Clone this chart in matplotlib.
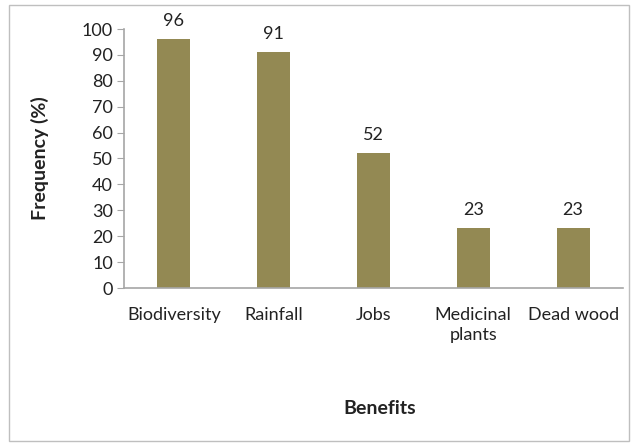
import matplotlib
matplotlib.use("Agg")
import matplotlib.pyplot as plt
from matplotlib.patches import Rectangle

benefits = ["Biodiversity", "Rainfall", "Jobs", "Medicinal\nplants", "Dead wood"]
frequency = [96, 91, 52, 23, 23]

plt.rcParams['font.family'] = ["Lato", "DejaVu Sans"]

W, H = 637, 448
fig = plt.figure(figsize=(W / 100, H / 100), dpi=100)
ax = fig.add_axes([124 / W, 1 - 288 / H, (623 - 124) / W, (288 - 29) / H])

x = range(len(benefits))
ax.bar(x, frequency, width=0.33, color="#938953", zorder=2)
for xi, v in zip(x, frequency):
    ax.text(xi, v + 4, str(v), ha="center", va="bottom", fontsize=13, color="#222222")

ax.set_xlim(-0.5, len(benefits) - 0.5)
ax.set_ylim(0, 100)
ax.set_yticks(range(0, 101, 10))
ax.set_xticks(list(x))
ax.set_xticklabels(benefits, fontsize=13, color="#222222", linespacing=1.3)
ax.tick_params(axis="x", length=0, pad=14)
ax.tick_params(axis="y", length=5, color="#A6A6A6", labelsize=13, labelcolor="#222222", pad=3)

for s in ["top", "right"]:
    ax.spines[s].set_visible(False)
for s in ["left", "bottom"]:
    ax.spines[s].set_color("#A6A6A6")
    ax.spines[s].set_linewidth(1.2)

fig.text(40 / W, 1 - 158 / H, "Frequency (%)", rotation=90, ha="center", va="center",
         fontsize=14, fontweight="bold", color="#222222")
fig.text(380 / W, 1 - 408 / H, "Benefits", ha="center", va="center",
         fontsize=14, fontweight="bold", color="#222222")

fig.patches.append(Rectangle((9 / W, 1 - 441 / H), (629 - 9) / W, (441 - 5) / H,
                             transform=fig.transFigure, fill=False,
                             edgecolor="#BFBFBF", linewidth=1))

fig.savefig("out.png", dpi=100)
